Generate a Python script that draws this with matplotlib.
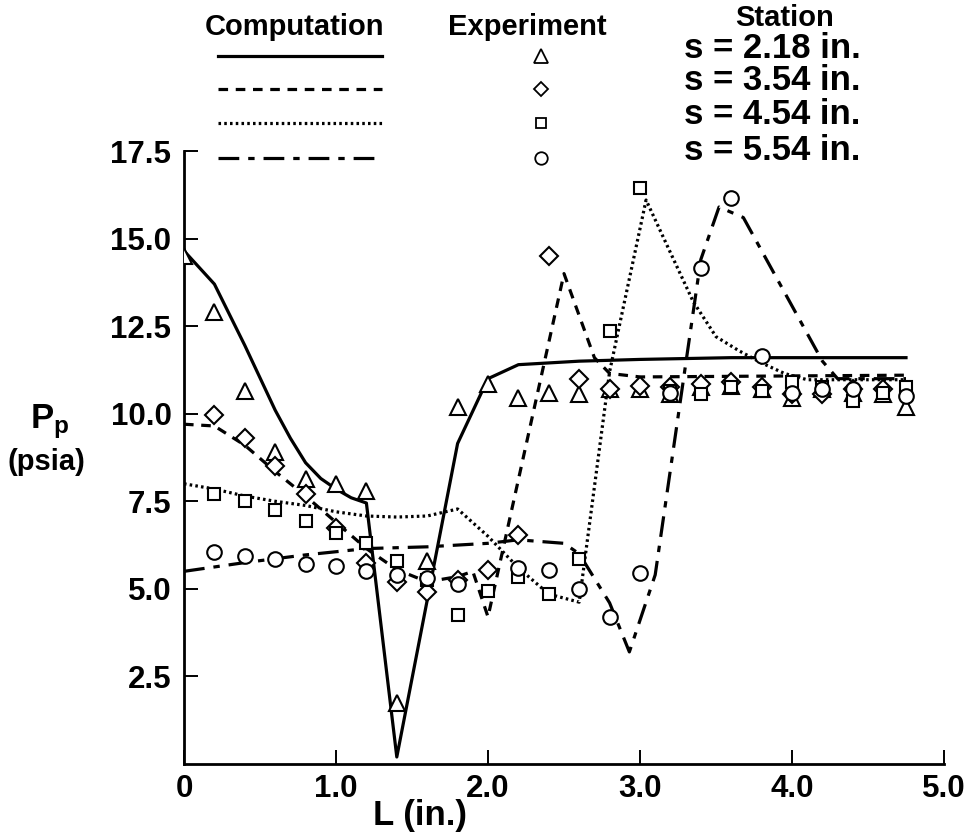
import matplotlib
matplotlib.use("Agg")
import matplotlib.pyplot as plt

plt.rcParams['font.family'] = ['Liberation Sans', 'DejaVu Sans']
plt.rcParams['font.weight'] = 'bold'
plt.rcParams['mathtext.fontset'] = 'custom'
plt.rcParams['mathtext.bf'] = 'Liberation Sans:bold'
plt.rcParams['mathtext.rm'] = 'Liberation Sans:bold'

# experiment, station s = 2.18 in. (triangles)
L_tri = [0, 0.2, 0.4, 0.6, 0.8, 1.0, 1.2, 1.4, 1.6, 1.8, 2.0, 2.2, 2.4, 2.6, 2.8, 3.0,
         3.2, 3.4, 3.6, 3.8, 4.0, 4.2, 4.4, 4.6, 4.75]
P_tri = [14.5, 12.9, 10.65, 8.9, 8.15, 8.0, 7.8, 1.75, 5.8, 10.2, 10.85, 10.45, 10.6, 10.55,
         10.7, 10.7, 10.55, 10.75, 10.8, 10.7, 10.45, 10.7, 10.6, 10.55, 10.2]

# s = 3.54 in. (diamonds)
L_dia = [0.2, 0.4, 0.6, 0.8, 1.0, 1.2, 1.4, 1.6, 1.8, 2.0, 2.2, 2.4, 2.6, 2.8, 3.0, 3.2,
         3.4, 3.6, 3.8, 4.0, 4.2, 4.4, 4.6]
P_dia = [9.95, 9.3, 8.5, 7.7, 6.75, 5.75, 5.2, 4.9, 5.25, 5.55, 6.55, 14.5, 11.0, 10.7,
         10.8, 10.75, 10.85, 10.9, 10.75, 10.55, 10.55, 10.7, 10.7]

# s = 4.54 in. (squares)
L_sq = [0.2, 0.4, 0.6, 0.8, 1.0, 1.2, 1.4, 1.6, 1.8, 2.0, 2.2, 2.4, 2.6, 2.8, 3.0, 3.2,
        3.4, 3.6, 3.8, 4.0, 4.2, 4.4, 4.6, 4.75]
P_sq = [7.7, 7.5, 7.25, 6.95, 6.6, 6.3, 5.8, 5.25, 4.25, 4.95, 5.35, 4.85, 5.85, 12.35,
        16.45, 10.65, 10.55, 10.75, 10.65, 10.9, 10.75, 10.35, 10.6, 10.75]

# s = 5.54 in. (circles)
L_cir = [0.2, 0.4, 0.6, 0.8, 1.0, 1.2, 1.4, 1.6, 1.8, 2.2, 2.4, 2.6, 2.8, 3.0, 3.2, 3.4,
         3.6, 3.8, 4.0, 4.2, 4.4, 4.75]
P_cir = [6.05, 5.95, 5.85, 5.7, 5.65, 5.5, 5.4, 5.3, 5.15, 5.6, 5.55, 5.0, 4.2, 5.45,
         10.6, 14.15, 16.15, 11.65, 10.6, 10.7, 10.7, 10.5]

# computation curves
L_c1 = [0, 0.2, 0.4, 0.6, 0.7, 0.8, 0.9, 1.0, 1.1, 1.2, 1.4, 1.8, 2.0, 2.2, 2.6, 3.0, 3.6, 4.2, 4.75]
P_c1 = [14.65, 13.7, 11.95, 10.1, 9.3, 8.6, 8.15, 7.85, 7.6, 7.45, 0.2, 9.15, 11.0, 11.4,
        11.5, 11.55, 11.6, 11.6, 11.6]

L_c2 = [0, 0.2, 0.4, 0.6, 0.8, 1.0, 1.2, 1.4, 1.6, 1.8, 1.9, 2.0, 2.5, 2.7, 2.8, 3.0, 4.75]
P_c2 = [9.7, 9.65, 9.1, 8.35, 7.65, 6.9, 6.15, 5.55, 5.2, 5.35, 5.5, 4.2, 14.0, 11.6,
        11.15, 11.05, 11.1]

L_c3 = [0, 0.2, 0.4, 0.6, 0.8, 1.0, 1.2, 1.4, 1.6, 1.8, 2.0, 2.2, 2.4, 2.6, 2.8, 3.04,
        3.2, 3.35, 3.5, 3.65, 3.8, 3.95, 4.1, 4.75]
P_c3 = [8.0, 7.85, 7.65, 7.5, 7.38, 7.2, 7.08, 7.05, 7.08, 7.28, 6.5, 5.6, 4.85, 4.62,
        11.2, 16.1, 14.6, 13.2, 12.2, 11.8, 11.45, 11.15, 10.97, 10.97]

L_c4 = [0, 0.4, 0.8, 1.2, 1.6, 2.0, 2.2, 2.5, 2.6, 2.8, 2.93, 3.1, 3.4, 3.52, 3.68, 4.2, 4.3, 4.75]
P_c4 = [5.5, 5.75, 5.97, 6.15, 6.2, 6.3, 6.4, 6.3, 6.0, 4.6, 3.2, 5.4, 14.4, 15.9, 15.6,
        11.5, 11.0, 11.0]

stations = ["s = 2.18 in.", "s = 3.54 in.", "s = 4.54 in.", "s = 5.54 in."]
xticks = [0, 1.0, 2.0, 3.0, 4.0, 5.0]
xtick_labels = ["0", "1.0", "2.0", "3.0", "4.0", "5.0"]
yticks = [2.5, 5.0, 7.5, 10.0, 12.5, 15.0, 17.5]

W, H = 978, 833
fig = plt.figure(figsize=(W / 100, H / 100), dpi=100)
ax = fig.add_axes([184 / W, 69 / H, 760 / W, 613 / H])

styles = [dict(ls='-'),
          dict(ls=(0, (3, 2.4))),
          dict(ls=(0, (0.8, 1.0))),
          dict(ls=(0, (6.5, 2.8, 2, 2.8)))]
lw = 2.3
curves = [(L_c1, P_c1), (L_c2, P_c2), (L_c3, P_c3), (L_c4, P_c4)]
for (x, y), st in zip(curves, styles):
    ax.plot(x, y, color='black', lw=lw, **st)

mk = dict(mfc='white', mec='black', mew=1.5, ls='none', color='black', zorder=3)
exps = [(L_tri, P_tri, '^', 12), (L_dia, P_dia, 'D', 9),
        (L_sq, P_sq, 's', 9), (L_cir, P_cir, 'o', 10.5)]
for x, y, m, ms in exps:
    ax.plot(x, y, marker=m, ms=ms, **mk)

ax.set_xlim(0, 5.0)
ax.set_ylim(0, 17.5)
ax.spines['top'].set_visible(False)
ax.spines['right'].set_visible(False)
for s in ['left', 'bottom']:
    ax.spines[s].set_linewidth(2.0)
ax.set_xticks(xticks)
ax.set_xticklabels(xtick_labels)
ax.set_yticks(yticks)
ax.tick_params(direction='in', length=10, width=1.4, labelsize=22.5)
ax.tick_params(axis='x', pad=7)
ax.tick_params(axis='y', pad=9)
for lab in ax.get_xticklabels() + ax.get_yticklabels():
    lab.set_fontweight('bold')

# axis labels
fig.text(420 / W, 1 - 815 / H, "L (in.)", ha='center', va='center', fontsize=25, fontweight='bold')
fig.text(50 / W, 1 - 422 / H, r"$\mathbf{P_p}$", ha='center', va='center', fontsize=25)
fig.text(46 / W, 1 - 462 / H, "(psia)", ha='center', va='center', fontsize=21, fontweight='bold')

# legend block drawn above the plot
def fx(px):
    return px / W

def fy(py):
    return 1 - py / H

fig.text(fx(295), fy(27), "Computation", ha='center', va='center', fontsize=21, fontweight='bold')
fig.text(fx(527), fy(27), "Experiment", ha='center', va='center', fontsize=21, fontweight='bold')
fig.text(fx(785), fy(18), "Station", ha='center', va='center', fontsize=21, fontweight='bold')

rows = [56, 89, 123, 158]
for i, py in enumerate(rows):
    fig.add_artist(plt.Line2D([fx(218), fx(382)], [fy(py), fy(py)], color='black', lw=lw,
                              transform=fig.transFigure, **styles[i]))
    m, ms = exps[i][2], exps[i][3]
    fig.add_artist(plt.Line2D([fx(541)], [fy(py)], marker=m, ms=ms - 1.5, mfc='white',
                              mec='black', mew=1.3, ls='none', transform=fig.transFigure))
    fig.text(fx(772), fy(py - 8), stations[i], ha='center', va='center', fontsize=25,
             fontweight='bold')

fig.savefig("out.png", dpi=100)
